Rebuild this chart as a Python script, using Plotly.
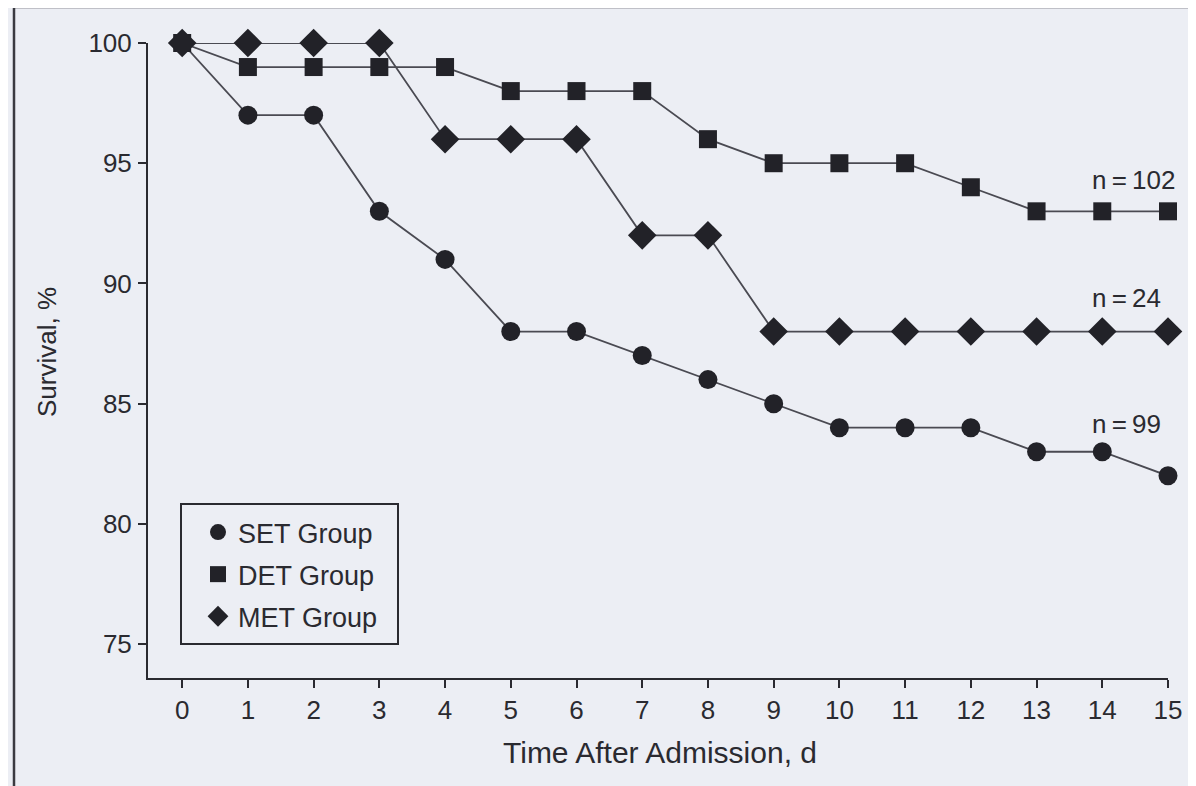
import plotly.graph_objects as go

days = list(range(16))
set_group = [100, 97, 97, 93, 91, 88, 88, 87, 86, 85, 84, 84, 84, 83, 83, 82]
det_group = [100, 99, 99, 99, 99, 98, 98, 98, 96, 95, 95, 95, 94, 93, 93, 93]
met_group = [100, 100, 100, 100, 96, 96, 96, 92, 92, 88, 88, 88, 88, 88, 88, 88]
series_names = ["SET Group", "DET Group", "MET Group"]
n_labels = ["n\u2009=\u2009102", "n\u2009=\u200924", "n\u2009=\u200999"]
n_label_y = [94.3, 89.4, 84.15]
y_ticks = [75, 80, 85, 90, 95, 100]

INK = "#222228"
LINE = "#4a4a52"
BG = "#eceef4"
FONT = "Liberation Sans, Arial, sans-serif"

# plot area in target pixel coords
PL, PR, PT, PB = 147, 1167, 43, 678
PW, PH = PR - PL, PB - PT
OFF_X, OFF_Y = 7, 8  # page body offset


def px(x):
    return (x - PL) / PW


def py(y):
    return (PB - y) / PH


fig = go.Figure()
specs = [
    (set_group, "circle", 19),
    (det_group, "square", 18),
    (met_group, "diamond", 22),
]
for i, (vals, sym, sz) in enumerate(specs):
    fig.add_trace(go.Scatter(
        x=days, y=vals, mode="lines+markers", name=series_names[i],
        showlegend=False,
        line=dict(color=LINE, width=1.8),
        marker=dict(symbol=sym, size=sz, color=INK, line=dict(width=0)),
        cliponaxis=False,
    ))
# legend entries (markers only)
for i, (vals, sym, sz) in enumerate(specs):
    fig.add_trace(go.Scatter(
        x=[None], y=[None], mode="markers", name=series_names[i],
        legendgroup=series_names[i], showlegend=True,
        marker=dict(symbol=sym, size=sz, color=INK, line=dict(width=0)),
    ))

for txt, yy in zip(n_labels, n_label_y):
    fig.add_annotation(x=13.81, y=yy, text=txt, showarrow=False,
                       xanchor="left", yanchor="middle",
                       font=dict(family=FONT, size=26, color="#2a2a30"))

# axis titles
fig.add_annotation(xref="paper", yref="paper", x=px(659), y=py(752),
                   text="Time After Admission, d", showarrow=False,
                   xanchor="center", yanchor="middle",
                   font=dict(family=FONT, size=30, color="#2a2a30"))
fig.add_annotation(xref="paper", yref="paper", x=px(46), y=py(352),
                   text="Survival, %", showarrow=False, textangle=-90,
                   xanchor="center", yanchor="middle",
                   font=dict(family=FONT, size=26, color="#2a2a30"))

# outer frame (left and top edges of the scanned figure box)
fig.add_shape(type="line", xref="paper", yref="paper",
              x0=px(13), x1=px(13), y0=-0.3, y1=py(7),
              line=dict(color="#3a3a40", width=2.5))
fig.add_shape(type="line", xref="paper", yref="paper",
              x0=px(13), x1=1.1, y0=py(7), y1=py(7),
              line=dict(color="#3a3a40", width=2.5))
# legend box
fig.add_shape(type="rect", xref="paper", yref="paper",
              x0=px(180), x1=px(397), y0=py(644), y1=py(504),
              line=dict(color="#2a2a30", width=2), fillcolor=BG, layer="below")

fig.update_layout(
    width=1196, height=786, autosize=False,
    margin=dict(l=PL - OFF_X, r=1196 - PR + OFF_X, t=PT - OFF_Y, b=786 - PB + OFF_Y),
    paper_bgcolor=BG, plot_bgcolor=BG,
    font=dict(family=FONT, size=26, color="#2a2a30"),
    showlegend=True,
    legend=dict(
        x=px(197), y=py(508), xanchor="left", yanchor="top",
        bgcolor="rgba(0,0,0,0)", borderwidth=0,
        font=dict(family=FONT, size=27, color="#2a2a30"),
        tracegroupgap=4, itemsizing="trace",
    ),
    xaxis=dict(
        range=[-0.52, 15], tickmode="array", tickvals=days,
        ticktext=[str(d) for d in days],
        showgrid=False, zeroline=False, showline=True, linecolor="#2a2a30", linewidth=2,
        ticks="outside", ticklen=8, tickwidth=2, tickcolor="#2a2a30",
        tickfont=dict(family=FONT, size=26, color="#2a2a30"),
    ),
    yaxis=dict(
        range=[73.59, 100], tickmode="array", tickvals=y_ticks,
        ticktext=[str(v) for v in y_ticks],
        showgrid=False, zeroline=False, showline=True, linecolor="#2a2a30", linewidth=2,
        ticks="outside", ticklen=8, tickwidth=2, tickcolor="#2a2a30",
        tickfont=dict(family=FONT, size=26, color="#2a2a30"),
        ticklabelstandoff=1,
    ),
)

fig.write_html("out.html")
